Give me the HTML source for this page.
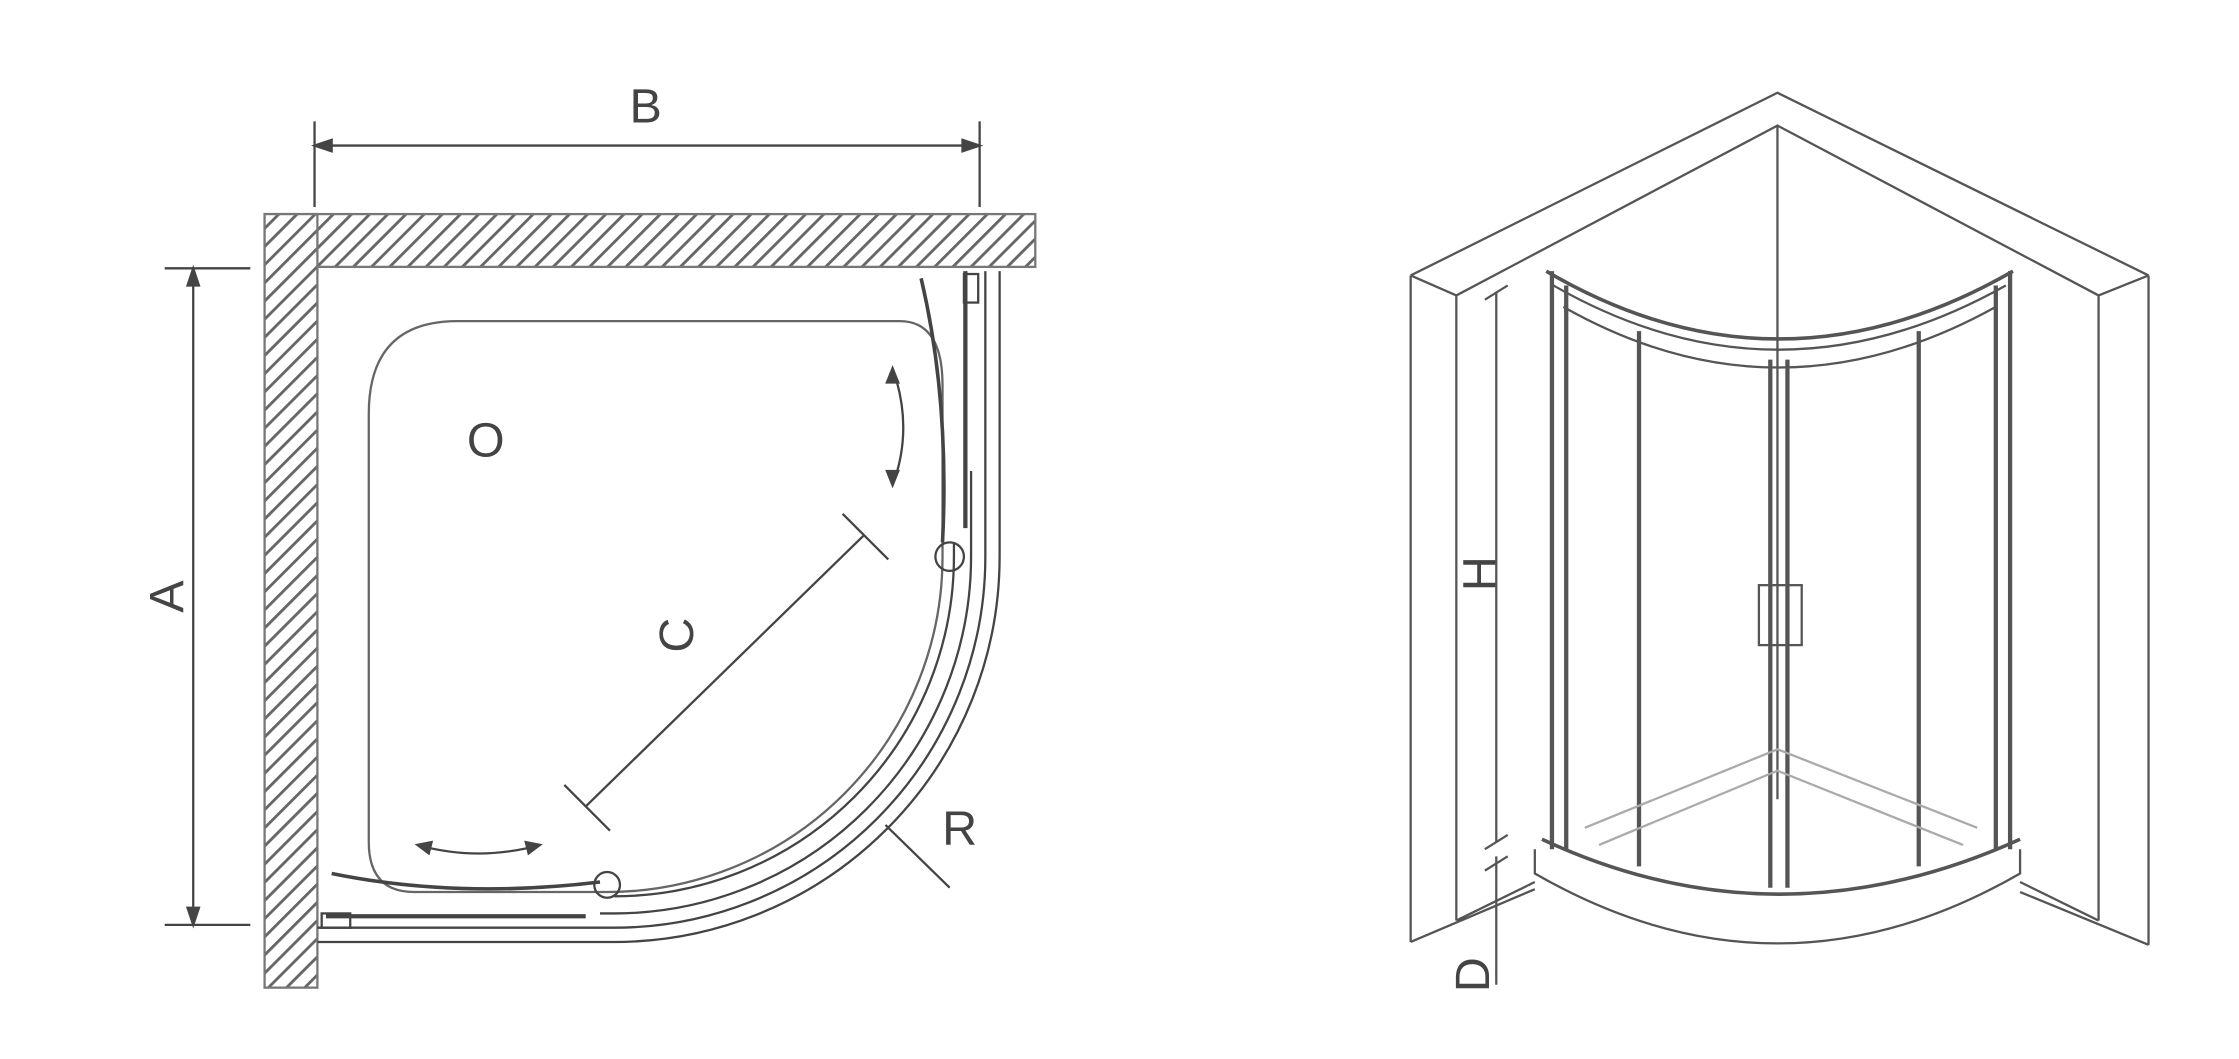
<!DOCTYPE html>
<html><head><style>html,body{margin:0;padding:0;background:#fff}svg{display:block}</style></head>
<body>
<svg width="2239" height="1059" viewBox="0 0 1568 742" xmlns="http://www.w3.org/2000/svg" font-family="Liberation Sans, sans-serif">
<defs>
<pattern id="h" width="9" height="9" patternUnits="userSpaceOnUse" patternTransform="rotate(45)">
<rect width="9" height="9" fill="#fff"/><rect width="2" height="9" fill="#666"/></pattern>
</defs>
<g stroke="#444" fill="none" stroke-width="1.6">
<line x1="220" y1="85" x2="220" y2="145"/><line x1="686" y1="85" x2="686" y2="145"/>
<line x1="220" y1="102" x2="686" y2="102"/>
<path d="M220 102 l12 -4 v8z M686 102 l-12 -4 v8z" fill="#444"/>
<rect x="185" y="150" width="540" height="37" fill="url(#h)" stroke="#777"/>
<rect x="185" y="150" width="37" height="542" fill="url(#h)" stroke="#777"/>
<line x1="115" y1="188" x2="175" y2="188"/><line x1="115" y1="648" x2="175" y2="648"/>
<line x1="135" y1="188" x2="135" y2="648"/>
<path d="M135 188 l-4 12 h8z M135 648 l-4 -12 h8z" fill="#444"/>
<path d="M258 290 Q258 225 320 225 L630 225 Q660 225 660 270 L660 390 A235 235 0 0 1 425 625 L290 625 Q258 625 258 590 Z" stroke="#666"/>
<path d="M700 190 V390 A270 270 0 0 1 430 660 H222"/>
<path d="M690 190 V390 A260 260 0 0 1 430 650 H222"/>
<path d="M680 330 V390 A250 250 0 0 1 430 640 H420"/>
<path d="M668 380 V390 A238 238 0 0 1 430 628"/>
<line x1="676" y1="190" x2="676" y2="370" stroke-width="3"/>
<line x1="228" y1="642" x2="410" y2="642" stroke-width="3"/>
<rect x="675" y="192" width="10" height="20"/>
<rect x="225" y="640" width="20" height="10"/>
<path d="M645 195 Q665 280 660 380" stroke-width="2.5"/>
<path d="M232 612 Q320 630 420 618" stroke-width="2.5"/>
<circle cx="665" cy="390" r="10"/><circle cx="425" cy="620" r="9"/>
<path d="M625 258 Q640 300 625 340"/><path d="M625 258 l-4 10 l8 0z M625 340 l-4 -10 l8 0z" fill="#444"/>
<path d="M292 592 Q335 604 378 592"/><path d="M292 592 l10 -2 l-2 8z M378 592 l-10 -2 l2 8z" fill="#444"/>
<line x1="605" y1="375" x2="410" y2="565"/>
<line x1="590" y1="360" x2="622" y2="392"/><line x1="395" y1="550" x2="427" y2="582"/>
<line x1="620" y1="578" x2="665" y2="622"/>
</g>
<g fill="#444" font-size="34">
<text x="452" y="86" text-anchor="middle">B</text>
<text x="340" y="320" text-anchor="middle">O</text>
<text x="672" y="592" text-anchor="middle">R</text>
<text transform="translate(485,445) rotate(-90)" text-anchor="middle">C</text>
<text transform="translate(128,418) rotate(-90)" text-anchor="middle">A</text>
<text transform="translate(1048,402) rotate(-90)" text-anchor="middle">H</text>
<text transform="translate(1043,683) rotate(-90)" text-anchor="middle">D</text>
</g>
<g stroke="#555" fill="none" stroke-width="1.6">
<path d="M988 193 L1245 65 L1505 193"/>
<path d="M1020 207 L1245 88 L1470 207"/>
<path d="M988 193 L1020 207 M1505 193 L1470 207"/>
<line x1="988" y1="193" x2="988" y2="660"/><line x1="1020" y1="207" x2="1020" y2="645"/>
<line x1="1505" y1="193" x2="1505" y2="662"/><line x1="1470" y1="207" x2="1470" y2="645"/>
<line x1="1245" y1="88" x2="1245" y2="560"/>
<path d="M988 660 L1075 623 M1020 645 L1075 618 M1505 662 L1415 625 M1470 645 L1415 618"/>
<path d="M1083 190 Q1245 285 1410 190" stroke-width="2.5"/>
<path d="M1088 200 Q1245 290 1405 200"/>
<path d="M1095 215 Q1245 300 1398 215"/>
<g stroke-width="3">
<line x1="1087" y1="190" x2="1087" y2="595"/><line x1="1097" y1="200" x2="1097" y2="595"/>
<line x1="1148" y1="232" x2="1148" y2="607"/>
<line x1="1240" y1="252" x2="1240" y2="622"/><line x1="1252" y1="252" x2="1252" y2="622"/>
<line x1="1344" y1="232" x2="1344" y2="607"/>
<line x1="1398" y1="200" x2="1398" y2="595"/><line x1="1408" y1="190" x2="1408" y2="595"/>
</g>
<rect x="1232" y="410" width="30" height="42"/>
<path d="M1080 588 Q1245 665 1415 588" stroke-width="2.5"/>
<path d="M1075 595 L1075 612 Q1245 710 1415 612 L1415 595"/>
<path d="M1110 580 L1245 525 L1385 580" stroke="#aaa"/>
<path d="M1120 592 L1245 540 L1375 592" stroke="#aaa"/>
<line x1="1048" y1="205" x2="1048" y2="590"/>
<line x1="1040" y1="210" x2="1056" y2="200"/><line x1="1040" y1="595" x2="1056" y2="585"/>
<line x1="1048" y1="600" x2="1048" y2="690"/>
<line x1="1040" y1="610" x2="1056" y2="600"/>
</g>
</svg>
</body></html>
